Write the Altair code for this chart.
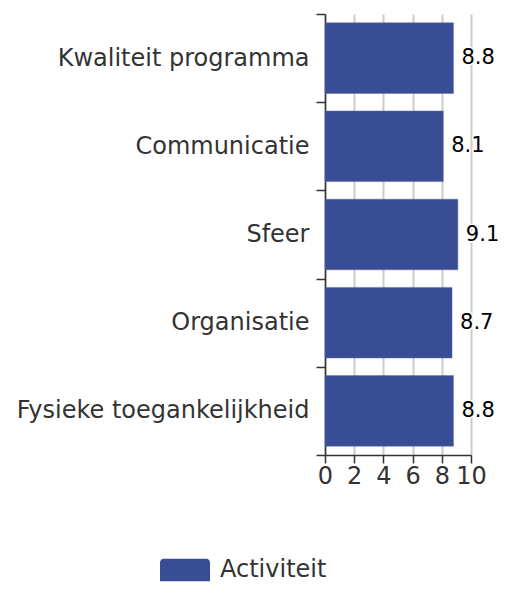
import altair as alt
import pandas as pd

categories = ["Kwaliteit programma", "Communicatie", "Sfeer", "Organisatie", "Fysieke toegankelijkheid"]
values = [8.8, 8.1, 9.1, 8.7, 8.8]
series = ["Activiteit"] * 5
x_ticks = [0, 2, 4, 6, 8, 10]

df = pd.DataFrame({"cat": categories, "val": values, "series": series})
df["label"] = df["val"].map(lambda v: f"{v:.1f}")

FONT = "DejaVu Sans"
FS = 24
legend_shape = ("M-0.85,-0.45 H0.85 A0.15,0.15 0 0 1 1,-0.3 V0.45 H-1 V-0.3 "
                "A0.15,0.15 0 0 1 -0.85,-0.45 Z")

y_enc = alt.Y("cat:N", sort=None, title=None,
              scale=alt.Scale(type="band", paddingInner=0, paddingOuter=0),
              axis=alt.Axis(tickBand="extent", labelFontSize=FS, labelFont=FONT,
                            labelColor="#333333", domainColor="#333333", tickColor="#333333",
                            tickSize=9, domainWidth=1.5, tickWidth=1.5, labelPadding=7,
                            labelLimit=400, grid=False))
x_enc = alt.X("val:Q", title=None,
              scale=alt.Scale(domain=[0, 10], nice=False),
              axis=alt.Axis(values=x_ticks, labelFontSize=FS, labelFont=FONT,
                            labelColor="#333333", domainColor="#333333", tickColor="#333333",
                            tickSize=8, domainWidth=1.5, tickWidth=1.5, labelPadding=1,
                            labelOverlap=False, labelFlush=False,
                            gridColor="#cccccc", gridWidth=2))

base = alt.Chart(df)

bars = base.mark_bar(stroke="#5a6bab", strokeWidth=0.5,
                     height=alt.RelativeBandSize(0.8)).encode(
    y=y_enc, x=x_enc,
    color=alt.Color("series:N", title=None,
                    scale=alt.Scale(range=["#394d96"]),
                    legend=alt.Legend(orient="none", legendX=-165, legendY=531,
                                      symbolType=legend_shape, symbolSize=2500,
                                      symbolStrokeWidth=0, labelFontSize=FS, labelFont=FONT,
                                      labelColor="#333333", labelOffset=10, padding=0)),
)

LFS = 21
halo = base.mark_text(align="left", baseline="middle", dx=8, fontSize=LFS, font=FONT,
                      stroke="white", strokeWidth=3, strokeJoin="round",
                      fill="white").encode(y=y_enc, x=x_enc, text="label:N")
text = base.mark_text(align="left", baseline="middle", dx=8, fontSize=LFS, font=FONT,
                      fill="black").encode(y=y_enc, x=x_enc, text="label:N")

chart = alt.layer(bars, halo, text).properties(
    width=146, height=441,
    autosize=alt.AutoSizeParams(type="none"),
    padding={"left": 317, "top": 6, "right": 29, "bottom": 128},
).configure_view(stroke=None)

chart.save("out.html", embed_options={"renderer": "svg", "actions": False})
